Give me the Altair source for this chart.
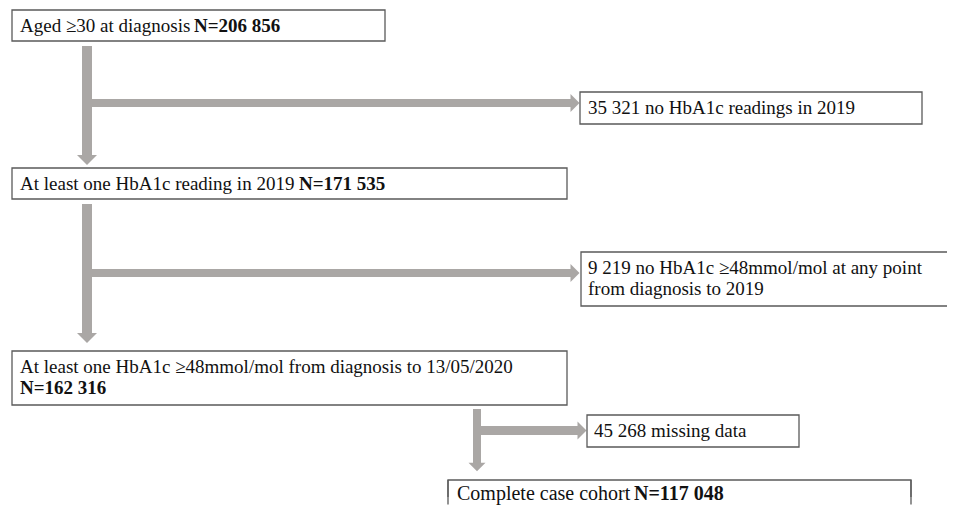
import altair as alt
import pandas as pd

# ---- content ----
stage_labels = [
    "Aged \u226530 at diagnosis",
    "At least one HbA1c reading in 2019",
    "At least one HbA1c \u226548mmol/mol from diagnosis to 13/05/2020",
    "Complete case cohort",
]
stage_counts = [206856, 171535, 162316, 117048]
excl_labels = [
    ["no HbA1c readings in 2019"],
    ["no HbA1c \u226548mmol/mol at any point", "from diagnosis to 2019"],
    ["missing data"],
]
excl_counts = [35321, 9219, 45268]


def fmt(n):
    return f"{n:,}".replace(",", " ")


# ---- layout (page pixel coordinates) ----
stage_boxes = [(12, 10, 385, 41), (12, 168, 567, 199), (12, 351, 567, 405), (448, 480, 911, 520)]
# (normal text x, y), (bold count x, y), font size
stage_text_pos = [
    ((20, 32), (194, 32), 19),
    ((20, 190), (299, 190), 19),
    ((20, 373), (20, 394), 19),
    ((457, 500), (634, 500), 20),
]
excl_boxes = [(580, 92, 922, 124), (581, 252, 970, 306), (587, 415, 799, 447)]
excl_text_pos = [(588, 114), (588, 274), (594, 437)]
line_gap = 21
# side edges of the last box, which runs past the bottom of the picture
open_edges = [(448, 480, 504.5), (911, 480, 504.5)]

shafts = [
    (82, 46, 92, 156), (92, 99, 571, 107),
    (82, 204, 92, 334), (92, 269, 571, 277),
    (473, 409, 481, 463), (481, 426, 578, 435),
]
heads_down = [(87, 160, 10), (87, 338, 10), (477, 467, 8.5)]
heads_right = [(575, 103, 9), (575, 273, 9), (582, 430.5, 9)]

W, H = 939, 489
X0, Y0 = 8, 8

box_rows = [dict(x=a, y=b, x2=c, y2=d) for (a, b, c, d) in stage_boxes + excl_boxes]
edge_rows = [dict(x=a, y=b, y2=c) for (a, b, c) in open_edges]
shaft_rows = [dict(x=a, y=b, x2=c, y2=d) for (a, b, c, d) in shafts]
down_rows = [dict(x=x, y=y, s=(2 * r) ** 2) for (x, y, r) in heads_down]
right_rows = [dict(x=x, y=y, s=(2 * r) ** 2) for (x, y, r) in heads_right]

normal_rows, bold_rows = [], []
for lab, n, ((nx, ny), (bx, by), fs) in zip(stage_labels, stage_counts, stage_text_pos):
    normal_rows.append(dict(x=nx, y=ny, t=lab, fs=fs))
    bold_rows.append(dict(x=bx, y=by, t="N=" + fmt(n), fs=fs))
for lines, n, (tx, ty) in zip(excl_labels, excl_counts, excl_text_pos):
    for i, ln in enumerate(lines):
        t = (fmt(n) + " " + ln) if i == 0 else ln
        normal_rows.append(dict(x=tx, y=ty + i * line_gap, t=t, fs=19))

xs = alt.Scale(domain=[X0, X0 + W], nice=False, zero=False)
ys = alt.Scale(domain=[Y0, Y0 + H], nice=False, zero=False, reverse=True)


def X(f="x"):
    return alt.X(f"{f}:Q", scale=xs, axis=None)


def Y(f="y"):
    return alt.Y(f"{f}:Q", scale=ys, axis=None)


GRAY = "#aaa7a5"
EDGE = "#5a5a5a"

boxes = alt.Chart(pd.DataFrame(box_rows)).mark_rect(
    fill="white", stroke=EDGE, strokeWidth=1.3, clip=True
).encode(x=X(), y=Y(), x2="x2:Q", y2="y2:Q")

edges = alt.Chart(pd.DataFrame(edge_rows)).mark_rule(
    color=EDGE, strokeWidth=1.3
).encode(x=X(), y=Y(), y2="y2:Q")

shaft_layer = alt.Chart(pd.DataFrame(shaft_rows)).mark_rect(color=GRAY, clip=True).encode(
    x=X(), y=Y(), x2="x2:Q", y2="y2:Q"
)

down_layer = alt.Chart(pd.DataFrame(down_rows)).mark_point(
    shape="M-1,-0.5L1,-0.5L0,0.5Z", filled=True, opacity=1, color=GRAY, strokeWidth=0, clip=True
).encode(x=X(), y=Y(), size=alt.Size("s:Q", scale=None))

right_layer = alt.Chart(pd.DataFrame(right_rows)).mark_point(
    shape="M-0.5,-1L0.5,0L-0.5,1Z", filled=True, opacity=1, color=GRAY, strokeWidth=0, clip=True
).encode(x=X(), y=Y(), size=alt.Size("s:Q", scale=None))

text_normal = alt.Chart(pd.DataFrame(normal_rows)).mark_text(
    align="left", baseline="alphabetic", font="Liberation Serif", color="#111111"
).encode(x=X(), y=Y(), text="t:N", size=alt.Size("fs:Q", scale=None))

text_bold = alt.Chart(pd.DataFrame(bold_rows)).mark_text(
    align="left", baseline="alphabetic", font="Liberation Serif",
    fontWeight="bold", color="#111111"
).encode(x=X(), y=Y(), text="t:N", size=alt.Size("fs:Q", scale=None))

chart = alt.layer(
    shaft_layer, down_layer, right_layer, boxes, edges, text_normal, text_bold
).properties(
    width=W, height=H, padding=0, background="white"
).configure_view(stroke=None)

chart.save("out.html", embed_options={"renderer": "svg", "actions": False})
